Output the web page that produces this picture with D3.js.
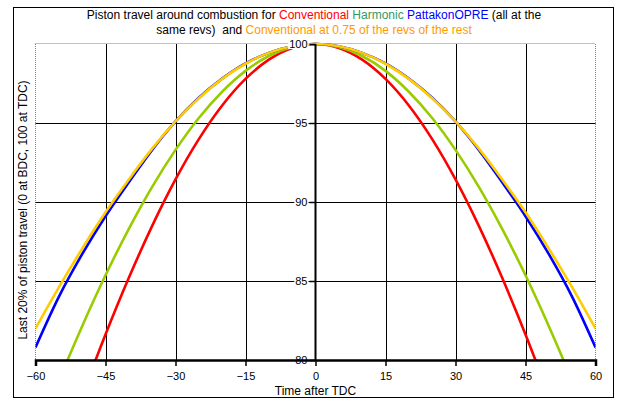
<!DOCTYPE html>
<html>
<head>
<meta charset="utf-8">
<script src="https://cdn.jsdelivr.net/npm/d3@7"></script>
<style>
  body { margin: 0; background: #fff; }
  text { font-family: "Liberation Sans", Arial, sans-serif; }
</style>
</head>
<body>
<div id="chart"></div>
<script>
// crank angle after TDC
const angles = [-60, -55, -50, -45, -40, -35, -30, -25, -20, -15, -10, -5, 0, 5, 10, 15, 20, 25, 30, 35, 40, 45, 50, 55, 60];

// last 20% of piston travel
const conventional = [69.38, 73.65, 77.74, 81.61, 85.20, 88.49, 91.43, 93.98, 96.11, 97.79, 99.01, 99.75, 100,
                      99.75, 99.01, 97.79, 96.11, 93.98, 91.43, 88.49, 85.20, 81.61, 77.74, 73.65, 69.38];
const harmonic = [75.00, 78.68, 82.14, 85.36, 88.30, 90.96, 93.30, 95.32, 96.98, 98.30, 99.24, 99.81, 100,
                  99.81, 99.24, 98.30, 96.98, 95.32, 93.30, 90.96, 88.30, 85.36, 82.14, 78.68, 75.00];
const pattakon = [80.80, 84.00, 86.70, 89.10, 91.25, 93.30, 95.10, 96.60, 97.81, 98.77, 99.44, 99.86, 100,
                  99.86, 99.44, 98.77, 97.81, 96.60, 95.10, 93.30, 91.25, 89.10, 86.70, 84.00, 80.80];
const conventionalSlow = [82.00, 84.60, 87.05, 89.35, 91.43, 93.38, 95.10, 96.57, 97.79, 98.75, 99.44, 99.86, 100,
                          99.86, 99.44, 98.75, 97.79, 96.57, 95.10, 93.38, 91.43, 89.35, 87.05, 84.60, 82.00];

const xTicks = [-60, -45, -30, -15, 0, 15, 30, 45, 60];
const yTicks = [80, 85, 90, 95, 100];

const series = [
    { name: "Conventional", values: conventional, color: "#ff0000" },
    { name: "Harmonic", values: harmonic, color: "#99cc00" },
    { name: "PattakonOPRE", values: pattakon, color: "#0000ff" },
    { name: "Conventional 0.75", values: conventionalSlow, color: "#ffcc00" }
];

const W = 632, H = 408;
const svg = d3.select("#chart").append("svg")
    .attr("width", W)
    .attr("height", H);

// outer frame
svg.append("rect")
    .attr("x", 13.5).attr("y", 7.5)
    .attr("width", 600).attr("height", 390)
    .attr("fill", "none")
    .attr("stroke", "#000")
    .attr("stroke-width", 1);

const x = d3.scaleLinear().domain([-60, 60]).range([35.5, 595.5]);
const y = d3.scaleLinear().domain([80, 100]).range([360, 44]);

// title
const title = svg.append("text")
    .attr("text-anchor", "middle")
    .attr("font-size", 12)
    .attr("xml:space", "preserve")
    .style("white-space", "pre");
const l1 = title.append("tspan").attr("x", 314).attr("y", 19);
l1.append("tspan").text("Piston travel around combustion for ");
l1.append("tspan").attr("fill", "#ff0000").text("Conventional");
l1.append("tspan").attr("fill", "#339966").text(" Harmonic");
l1.append("tspan").attr("fill", "#0000ff").text(" PattakonOPRE");
l1.append("tspan").text(" (all at the");
const l2 = title.append("tspan").attr("x", 314).attr("y", 34);
l2.append("tspan").text("same revs)  and ");
l2.append("tspan").attr("fill", "#ff9900").text("Conventional at 0.75 of the revs of the rest");

// plot frame: dotted top / left / right
const frame = svg.append("g")
    .attr("stroke", "#808080")
    .attr("stroke-dasharray", "1,1")
    .attr("stroke-width", 1);
frame.append("line").attr("x1", x(-60)).attr("x2", x(60)).attr("y1", y(100) - 0.5).attr("y2", y(100) - 0.5);
frame.append("line").attr("x1", x(-60)).attr("x2", x(-60)).attr("y1", y(100)).attr("y2", y(80));
frame.append("line").attr("x1", x(60)).attr("x2", x(60)).attr("y1", y(100)).attr("y2", y(80));

// grid
const grid = svg.append("g").attr("stroke", "#000").attr("stroke-width", 1);
grid.selectAll(".vg")
    .data(xTicks.filter(d => d !== 0 && Math.abs(d) !== 60))
    .enter().append("line")
    .attr("x1", d => Math.round(x(d)) + 0.5).attr("x2", d => Math.round(x(d)) + 0.5)
    .attr("y1", y(100)).attr("y2", y(80));
grid.selectAll(".hg")
    .data(yTicks.filter(d => d !== 80 && d !== 100))
    .enter().append("line")
    .attr("x1", x(-60)).attr("x2", x(60))
    .attr("y1", d => Math.round(y(d)) + 0.5).attr("y2", d => Math.round(y(d)) + 0.5);

// curves
svg.append("clipPath").attr("id", "plotclip")
    .append("rect")
    .attr("x", x(-60)).attr("y", y(100) - 3)
    .attr("width", x(60) - x(-60)).attr("height", y(80) - y(100) + 3);

const line = d3.line()
    .x((d, i) => x(angles[i]))
    .y(d => y(d))
    .curve(d3.curveMonotoneX);

svg.append("g").attr("clip-path", "url(#plotclip)")
    .selectAll("path")
    .data(series)
    .enter().append("path")
    .attr("fill", "none")
    .attr("stroke", d => d.color)
    .attr("stroke-width", 2.6)
    .attr("d", d => line(d.values));

// y axis at zero with boxed labels
const yAxis = svg.append("g")
    .attr("transform", `translate(${x(0)},0)`)
    .call(d3.axisLeft(y).tickValues(yTicks).tickSize(6).tickPadding(2).tickFormat(d3.format("d")));
yAxis.select(".domain").remove();
yAxis.selectAll(".tick line").attr("stroke", "#000").attr("stroke-width", 1.5);
yAxis.selectAll(".tick text")
    .attr("font-size", 11)
    .attr("font-family", "Liberation Sans, Arial, sans-serif")
    .attr("fill", "#000");
yAxis.selectAll(".tick").each(function () {
    const t = d3.select(this).select("text");
    const b = t.node().getBBox();
    d3.select(this).insert("rect", "text")
        .attr("x", b.x - 1).attr("y", b.y + 1)
        .attr("width", b.width + 2).attr("height", b.height - 2)
        .attr("fill", "#fff");
});
svg.append("line")
    .attr("x1", x(0)).attr("x2", x(0))
    .attr("y1", y(100)).attr("y2", y(80))
    .attr("stroke", "#000").attr("stroke-width", 2);

// x axis at bottom
const xAxis = svg.append("g")
    .attr("transform", `translate(0,${y(80)})`)
    .call(d3.axisBottom(x).tickValues(xTicks).tickSize(6).tickPadding(6).tickFormat(d3.format("d")));
xAxis.select(".domain").attr("stroke", "#000").attr("stroke-width", 2.5);
xAxis.selectAll(".tick line").attr("stroke", "#000").attr("stroke-width", 1.5);
xAxis.selectAll(".tick text")
    .attr("font-size", 11)
    .attr("font-family", "Liberation Sans, Arial, sans-serif")
    .attr("fill", "#000");

// axis titles
svg.append("text")
    .attr("x", x(0)).attr("y", 395)
    .attr("text-anchor", "middle")
    .attr("font-size", 12)
    .text("Time after TDC");

svg.append("text")
    .attr("transform", "translate(27,210) rotate(-90)")
    .attr("text-anchor", "middle")
    .attr("font-size", 12)
    .text("Last 20% of piston travel (0 at BDC, 100 at TDC)");
</script>
</body>
</html>
